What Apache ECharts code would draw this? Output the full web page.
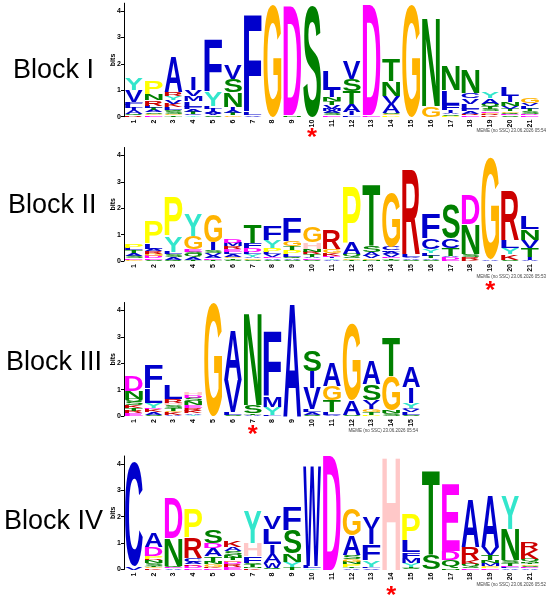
<!DOCTYPE html>
<html>
<head>
<meta charset="utf-8">
<title>Sequence logos</title>
<script src="https://cdn.jsdelivr.net/npm/echarts@6/dist/echarts.min.js"></script>
<style>
html, body { margin: 0; padding: 0; background: #fff; }
#container { width: 550px; height: 599px; }
</style>
</head>
<body>
<div id="container"></div>
<script type="text/javascript">

// 每列从下到上: [字母, bits]
var blockICols = [
	[['R',0.05],['Q',0.05],['A',0.15],['I',0.08],['L',0.12],['F',0.1],['V',0.45],['Y',0.45]],
	[['E',0.05],['G',0.05],['S',0.06],['A',0.08],['T',0.1],['L',0.08],['R',0.2],['N',0.25],['P',0.5]],
	[['T',0.05],['G',0.05],['S',0.1],['Q',0.05],['L',0.1],['K',0.12],['V',0.15],['Y',0.15],['R',0.15],['A',1.3]],
	[['Y',0.05],['C',0.05],['T',0.08],['A',0.1],['F',0.1],['L',0.2],['M',0.2],['V',0.25],['I',0.5]],
	[['S',0.05],['V',0.07],['A',0.08],['I',0.1],['L',0.1],['Y',0.55],['F',1.95]],
	[['G',0.05],['T',0.08],['A',0.1],['I',0.15],['N',0.55],['S',0.5],['V',0.55]],
	[['V',0.05],['L',0.1],['F',3.7]],
	[['G',4.25]],
	[['N',0.05],['D',4.12]],
	[['S',4.2]],
	[['E',0.05],['S',0.08],['A',0.08],['M',0.1],['V',0.12],['T',0.15],['N',0.15],['I',0.3],['L',0.7]],
	[['L',0.05],['I',0.12],['A',0.3],['T',0.5],['S',0.45],['V',0.65]],
	[['E',0.05],['D',4.15]],
	[['P',0.05],['G',0.05],['S',0.05],['A',0.35],['V',0.3],['N',0.55],['T',0.85]],
	[['G',4.25]],
	[['G',0.4],['N',3.35]],
	[['P',0.04],['S',0.05],['A',0.06],['I',0.1],['F',0.2],['L',0.55],['N',0.95]],
	[['E',0.05],['R',0.05],['A',0.1],['F',0.1],['L',0.2],['V',0.2],['C',0.2],['N',0.9]],
	[['K',0.05],['R',0.05],['G',0.05],['E',0.05],['S',0.1],['T',0.1],['Q',0.1],['A',0.2],['Y',0.25]],
	[['S',0.05],['E',0.05],['Q',0.05],['G',0.05],['T',0.1],['V',0.1],['N',0.15],['I',0.25],['L',0.35]],
	[['E',0.05],['D',0.05],['S',0.1],['T',0.1],['L',0.1],['V',0.1],['G',0.2]]
];

var blockIICols = [
	[['G',0.05],['E',0.05],['S',0.1],['A',0.1],['T',0.1],['L',0.1],['P',0.15]],
	[['S',0.05],['E',0.05],['D',0.08],['G',0.08],['R',0.1],['A',0.1],['L',0.2],['P',0.85]],
	[['Q',0.05],['A',0.1],['S',0.1],['L',0.1],['Y',0.6],['P',1.45]],
	[['T',0.05],['A',0.1],['Q',0.1],['S',0.1],['E',0.1],['G',0.5],['Y',0.8]],
	[['T',0.05],['E',0.05],['A',0.1],['V',0.1],['S',0.1],['I',0.3],['G',1.05]],
	[['S',0.05],['T',0.05],['G',0.05],['A',0.1],['L',0.1],['E',0.1],['R',0.1],['M',0.15],['D',0.15]],
	[['S',0.05],['G',0.05],['A',0.05],['Y',0.1],['L',0.1],['D',0.15],['F',0.2],['T',0.7]],
	[['S',0.05],['A',0.05],['E',0.05],['V',0.1],['L',0.1],['P',0.15],['Y',0.3],['F',0.55]],
	[['S',0.05],['A',0.05],['Q',0.05],['L',0.1],['P',0.15],['T',0.15],['G',0.2],['F',0.9]],
	[['S',0.05],['E',0.05],['A',0.05],['T',0.1],['R',0.1],['N',0.1],['H',0.25],['G',0.6]],
	[['A',0.05],['Y',0.05],['I',0.05],['E',0.05],['K',0.1],['G',0.15],['R',0.7]],
	[['T',0.05],['G',0.05],['S',0.05],['Q',0.1],['A',0.45],['P',2.1]],
	[['N',0.05],['G',0.05],['V',0.1],['A',0.15],['S',0.25],['T',2.3]],
	[['S',0.05],['T',0.05],['E',0.05],['V',0.1],['A',0.1],['L',0.05],['C',0.15],['G',2.05]],
	[['S',0.05],['A',0.05],['V',0.05],['L',0.1],['R',3.2]],
	[['S',0.05],['A',0.05],['T',0.1],['L',0.1],['Y',0.15],['C',0.4],['F',0.95]],
	[['E',0.05],['D',0.1],['A',0.05],['T',0.3],['C',0.35],['S',1.3]],
	[['K',0.05],['R',0.1],['S',0.1],['N',1.15],['D',1.1]],
	[['A',0.05],['G',3.85]],
	[['S',0.05],['K',0.2],['Y',0.25],['L',0.3],['R',1.85]],
	[['A',0.05],['I',0.1],['T',0.35],['V',0.3],['N',0.4],['L',0.5]]
];

var blockIIICols = [
	[['E',0.1],['R',0.1],['T',0.1],['K',0.1],['S',0.15],['Q',0.1],['N',0.3],['D',0.6]],
	[['S',0.05],['A',0.1],['K',0.1],['D',0.05],['Y',0.2],['L',0.55],['F',0.9]],
	[['A',0.05],['K',0.1],['G',0.05],['T',0.1],['S',0.1],['H',0.1],['R',0.15],['L',0.55]],
	[['Y',0.05],['A',0.05],['K',0.1],['R',0.1],['E',0.1],['N',0.15],['S',0.15],['D',0.1],['H',0.1]],
	[['G',4.3]],
	[['S',0.05],['L',0.1],['V',1.2],['A',1.85]],
	[['A',0.05],['T',0.05],['S',0.3],['N',3.5]],
	[['L',0.05],['Y',0.3],['M',0.4],['F',2.45]],
	[['A',4.3]],
	[['S',0.05],['A',0.1],['L',0.1],['V',0.8],['I',0.65],['S',0.8]],
	[['V',0.05],['L',0.1],['T',0.45],['G',0.55],['A',0.9]],
	[['S',0.05],['A',0.55],['G',2.9]],
	[['P',0.05],['T',0.1],['G',0.1],['I',0.15],['V',0.2],['S',0.6],['A',0.9]],
	[['S',0.1],['N',0.1],['G',1.3],['T',1.45]],
	[['S',0.05],['L',0.1],['V',0.1],['C',0.05],['Y',0.2],['I',0.6],['A',0.8]]
];

var blockIVCols = [
	[['V',0.1],['C',3.95]],
	[['K',0.05],['G',0.05],['T',0.05],['S',0.1],['N',0.1],['R',0.05],['P',0.1],['D',0.35],['A',0.55]],
	[['A',0.05],['E',0.05],['Q',0.05],['N',1.05],['D',1.5]],
	[['E',0.05],['D',0.1],['K',0.05],['A',0.1],['C',0.15],['R',0.75],['P',1.1]],
	[['E',0.05],['K',0.05],['G',0.1],['N',0.1],['T',0.2],['A',0.3],['D',0.2],['S',0.5]],
	[['E',0.1],['R',0.1],['D',0.1],['G',0.05],['T',0.1],['N',0.1],['S',0.15],['A',0.15],['K',0.25]],
	[['K',0.05],['N',0.05],['T',0.1],['S',0.05],['F',0.25],['H',0.5],['Y',1.2]],
	[['Q',0.05],['W',0.2],['A',0.35],['I',0.35],['L',0.6],['V',0.5]],
	[['T',0.1],['Y',0.2],['N',0.3],['S',0.9],['F',0.9]],
	[['Y',0.05],['L',0.1],['W',3.8]],
	[['D',4.3]],
	[['A',0.05],['T',0.05],['P',0.1],['N',0.1],['G',0.1],['S',0.15],['A',0.75],['G',1.0]],
	[['V',0.05],['L',0.05],['Y',0.25],['F',0.6],['I',0.6],['V',0.45]],
	[['H',4.3]],
	[['S',0.05],['T',0.05],['Y',0.15],['M',0.2],['F',0.2],['L',0.45],['P',1.0]],
	[['S',0.55],['T',3.2]],
	[['N',0.05],['Q',0.3],['D',0.35],['E',2.5]],
	[['E',0.05],['S',0.05],['Q',0.1],['K',0.15],['R',0.5],['A',1.8]],
	[['E',0.05],['P',0.05],['G',0.05],['M',0.1],['N',0.1],['T',0.2],['V',0.3],['A',1.95]],
	[['A',0.05],['L',0.05],['E',0.05],['T',0.1],['S',0.1],['N',1.2],['Y',1.25]],
	[['A',0.05],['E',0.05],['S',0.05],['G',0.05],['T',0.05],['N',0.05],['Q',0.1],['K',0.35],['R',0.3]]
];

var blockLabels = ['Block I', 'Block II', 'Block III', 'Block IV'];
var starColumns = [10, 19, 7, 14];
var memeStamps = [
	'MEME (no SSC) 23.06.2026 05:54',
	'MEME (no SSC) 23.06.2026 05:53',
	'MEME (no SSC) 23.06.2026 05:54',
	'MEME (no SSC) 23.06.2026 05:52'
];
var yTicks = [0, 1, 2, 3, 4];

var letterColors = {
	A: '#0000CC', C: '#0000CC', F: '#0000CC', I: '#0000CC', L: '#0000CC', V: '#0000CC', W: '#0000CC', M: '#0000CC',
	N: '#008000', Q: '#008000', S: '#008000', T: '#008000',
	D: '#FF00FF', E: '#FF00FF',
	K: '#CC0000', R: '#CC0000',
	H: '#FFC8C8', G: '#FFB300', P: '#FFFF00', Y: '#33E6CC'
};

var blocks = [blockICols, blockIICols, blockIIICols, blockIVCols];
var zeroY = [116.7, 261, 416, 569.5];   // 0 bits 的像素位置
var bitPx = 26.4;
var yMax = 4.3;
var colW = 19.8;
var starGap = [16, 25, 14, 22];
var labelPos = [[13, 71], [8, 206], [6, 363], [4, 522]];
var stampPos = [[546, 131], [546, 277], [418, 431], [546, 585]];

// 用 canvas 量字形边框, 再用缩放把字母塞满格子
var GLYPH_FONT = 'bold 100px "Liberation Sans", Arial, sans-serif';
var measureCtx = document.createElement('canvas').getContext('2d');
measureCtx.font = GLYPH_FONT;
measureCtx.textAlign = 'left';
measureCtx.textBaseline = 'middle';
var glyphBox = {};
function boxOf(ch) {
	if (!glyphBox[ch]) {
		var m = measureCtx.measureText(ch);
		glyphBox[ch] = {
			l: m.actualBoundingBoxLeft, r: m.actualBoundingBoxRight,
			a: m.actualBoundingBoxAscent, d: m.actualBoundingBoxDescent
		};
	}
	return glyphBox[ch];
}
function glyph(ch, left, top, w, h, color) {
	var b = boxOf(ch);
	var sx = w / (b.l + b.r);
	var sy = h / (b.a + b.d);
	return {
		type: 'text',
		x: left + b.l * sx,
		y: top + b.a * sy,
		scaleX: sx,
		scaleY: sy,
		style: { text: ch, x: 0, y: 0, font: GLYPH_FONT, fill: color, align: 'left', verticalAlign: 'middle' }
	};
}

function makeRenderer(k) {
	return function (params, api) {
		var i = api.value(0);
		var col = blocks[k][i];
		var full = api.size([1, 0])[0] * 0.9;
		var cx = api.coord([i, 0])[0];
		var children = [];
		var cum = 0;
		for (var j = 0; j < col.length; j++) {
			var ch = col[j][0];
			var h = col[j][1];
			var top = api.coord([i, cum + h])[1];
			var ph = api.size([0, h])[1];
			var w = ch === 'I' ? full * 0.25 : full;   // I 保持窄条
			if (ph > 0.3) {
				children.push(glyph(ch, cx - w / 2, top, w, ph, letterColors[ch]));
			}
			cum += h;
		}
		if (i + 1 === starColumns[k]) {
			var base = api.coord([i, 0])[1];
			children.push(glyph('*', cx - 5, base + starGap[k] - 4.5, 10, 9, '#FF0000'));
		}
		return { type: 'group', children: children };
	};
}

var grids = [], xAxes = [], yAxes = [], series = [], graphics = [];
for (var k = 0; k < blocks.length; k++) {
	var n = blocks[k].length;
	var cats = [], idx = [];
	for (var c = 0; c < n; c++) { cats.push(String(c + 1)); idx.push(c); }
	grids.push({
		left: 124, width: n * colW,
		top: zeroY[k] - yMax * bitPx, height: yMax * bitPx,
		containLabel: false, outerBoundsMode: 'none'
	});
	xAxes.push({
		type: 'category', gridIndex: k, data: cats,
		axisLine: { show: false }, axisTick: { show: false },
		axisLabel: { rotate: 90, fontSize: 7, fontWeight: 'bold', color: '#000', margin: 3, interval: 0,
			fontFamily: 'Liberation Sans' },
		splitLine: { show: false }
	});
	yAxes.push({
		type: 'value', gridIndex: k, min: 0, max: yMax,
		name: 'bits', nameLocation: 'middle', nameGap: 7, nameRotate: 90, nameMoveOverlap: false,
		nameTextStyle: { fontSize: 7, fontWeight: 'bold', color: '#000', fontFamily: 'Liberation Sans' },
		axisLine: { show: true, lineStyle: { color: '#000', width: 1 } },
		axisTick: { show: true, length: 3, customValues: yTicks, lineStyle: { color: '#000' } },
		axisLabel: { customValues: yTicks, fontSize: 7, fontWeight: 'bold', color: '#000', margin: 3,
			fontFamily: 'Liberation Sans' },
		splitLine: { show: false }
	});
	series.push({
		type: 'custom', xAxisIndex: k, yAxisIndex: k,
		data: idx, encode: { x: 0 },
		renderItem: makeRenderer(k), silent: true
	});
	graphics.push({
		type: 'text', x: labelPos[k][0], y: labelPos[k][1],
		style: { text: blockLabels[k], font: '27px "Liberation Sans", Arial, sans-serif', fill: '#000',
			align: 'left', verticalAlign: 'middle' }
	});
	graphics.push({
		type: 'text', x: stampPos[k][0], y: stampPos[k][1],
		style: { text: memeStamps[k], font: '4.5px "Liberation Sans", Arial, sans-serif', fill: '#444',
			align: 'right', verticalAlign: 'middle' }
	});
}

var myChart = echarts.init(document.getElementById('container'));
var option = {
	backgroundColor: '#fff',
	animation: false,
	grid: grids,
	xAxis: xAxes,
	yAxis: yAxes,
	series: series,
	graphic: graphics
};
myChart.setOption(option);
</script>
</body>
</html>
